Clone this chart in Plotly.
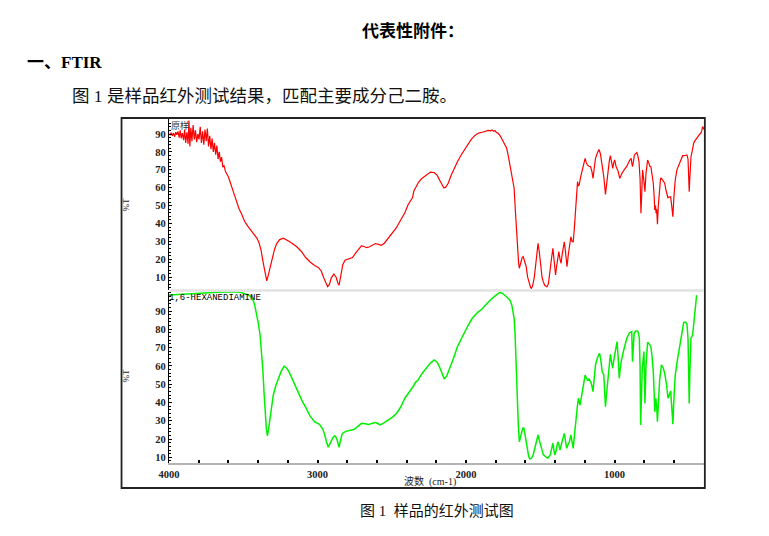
import plotly.graph_objects as go

W, H = 769, 536

# 原样 (上段, 红色)
sample_wn = [4000, 3992, 3985, 3978, 3970, 3962, 3955, 3948, 3940, 3932, 3925, 3918, 3910, 3902,
             3895, 3888, 3880, 3872, 3866, 3860, 3853, 3846, 3838, 3830, 3822, 3814, 3806, 3798,
             3790, 3782, 3774, 3766, 3758, 3750, 3742, 3734, 3726, 3718, 3710, 3702, 3694, 3686,
             3678, 3670, 3662, 3654, 3646, 3638, 3630, 3620, 3610, 3600, 3590, 3580, 3570, 3560,
             3545, 3530, 3510, 3490, 3470, 3450, 3430, 3410, 3395, 3380, 3368, 3355, 3342, 3332,
             3320, 3308, 3290, 3275, 3255, 3230, 3210, 3190, 3165, 3140, 3110, 3080, 3050, 3020,
             2995, 2975, 2960, 2945, 2932, 2920, 2908, 2890, 2875, 2862, 2855, 2845, 2830, 2815,
             2790, 2765, 2745, 2725, 2705, 2690, 2670, 2650, 2630, 2610, 2590, 2570, 2550, 2530,
             2500, 2470, 2440, 2412, 2390, 2370, 2360, 2352, 2340, 2320, 2300, 2270, 2240, 2215,
             2195, 2170, 2150, 2138, 2120, 2100, 2080, 2058, 2035, 2010, 1990, 1965, 1940, 1915,
             1890, 1870, 1850, 1835, 1825, 1815, 1805, 1795, 1785, 1770, 1760, 1748, 1738, 1726,
             1716, 1708, 1700, 1692, 1684, 1676, 1666, 1660, 1654, 1646, 1641, 1632, 1622, 1615,
             1605, 1595, 1585, 1575, 1565, 1560, 1552, 1540, 1530, 1520, 1515, 1508, 1498, 1488,
             1480, 1470, 1460, 1455, 1445, 1435, 1425, 1415, 1408, 1400, 1397, 1390, 1382, 1375,
             1367, 1360, 1352, 1345, 1338, 1330, 1320, 1312, 1304, 1298, 1294, 1286, 1278, 1270,
             1265, 1258, 1252, 1249, 1244, 1238, 1228, 1216, 1205, 1198, 1190, 1183, 1172, 1161,
             1152, 1145, 1138, 1128, 1115, 1105, 1095, 1083, 1072, 1061, 1052, 1043, 1035, 1028,
             1020, 1012, 1005, 999, 990, 983, 975, 965, 957, 950, 935, 917, 900, 888,
             884, 879, 872, 866, 858, 850, 842, 835, 828, 822, 816, 811, 805, 800,
             795, 788, 782, 777, 770, 762, 755, 747, 739, 733, 729, 724, 720, 716,
             711, 705, 700, 696, 690, 684, 675, 662, 652, 645, 640, 632, 622, 615,
             607, 600, 591, 580, 563, 550, 541, 525, 512, 505, 500, 497, 493, 488,
             485, 478, 472, 467, 460, 450, 445, 435, 425, 419, 412, 407, 402, 397]
sample_t = [90, 89.5, 90.8, 89, 90.5, 88.5, 91, 89.5, 91.5, 88, 92, 87.5, 90.5, 86.5,
            92.5, 85, 91, 84.5, 97.5, 83, 93.5, 86, 95, 87, 92, 85.5, 90, 87,
            94, 85, 91.5, 84, 92.5, 86, 93, 83, 89, 81.5, 87.5, 80, 85, 78.5,
            83.5, 76, 80, 74.5, 77, 71.5, 72.5, 69, 67.5, 66, 63.5, 61.5, 58.5, 56,
            52, 48.5, 45, 41, 38.5, 36.5, 34.5, 32, 29.5, 25, 19, 13, 8, 11,
            15, 20.5, 25.5, 28.8, 31, 31.8, 31, 30, 28.5, 27, 24.5, 21, 18.5, 16.5,
            15.5, 13.5, 10, 6.5, 4.7, 6, 9.5, 11.8, 10, 6.5, 5.6, 10, 17, 19.5,
            20.3, 21, 23.3, 25.5, 27.5, 27.3, 26.5, 27, 28, 28.8, 28.3, 27.8, 29, 31,
            34, 37.5, 42, 46, 50.5, 53.5, 54.5, 58, 60, 63, 65, 67, 68.7, 68.5,
            67, 63, 60, 60.2, 62.5, 67, 71, 74.5, 78, 81.5, 84, 87, 89.2, 90.5,
            91, 91.3, 92, 91.8, 92.3, 91.5, 91.9, 90.8, 90.5, 89, 87.5, 86, 84, 82,
            78, 74.5, 71, 68, 64, 59.7, 44.7, 35, 26.1, 18, 15, 18, 21, 21.5,
            19, 16, 10, 6.6, 4.2, 3.8, 5, 10, 17, 25, 28.9, 25, 16, 10,
            7.5, 5.5, 4.8, 4.7, 6.5, 12, 20, 26.1, 20, 13, 11.2, 16, 22, 24.3,
            20, 17.8, 23, 27, 29.8, 24, 15.9, 22, 27, 31, 32.6, 30, 29.8, 38,
            44.7, 53, 60, 63.4, 61, 61.5, 66, 69.9, 74, 76.4, 74, 72.7, 72, 71.7,
            69, 65.2, 70, 76.4, 79.5, 81.4, 79, 72.7, 66, 56.3, 63, 70.8, 75, 77.9,
            75, 70.8, 74, 75.5, 72, 70.8, 69, 65.2, 67, 68, 70, 72, 75, 76.4,
            74, 71.7, 75, 78.3, 79, 79.6, 77.5, 74.5, 65, 45.7, 58, 69.9, 66, 62.5,
            57.8, 68, 73, 75.5, 74, 72, 71.7, 68, 62.5, 55, 47.5, 50, 45.7, 48,
            39.6, 50, 56, 62, 65.2, 65.2, 64, 62.5, 58, 55.5, 54.4, 54.8, 55, 50,
            43.8, 55, 64.3, 70, 73.6, 76.5, 77.9, 78, 78.3, 76, 65, 57.8, 65, 76,
            77.3, 80, 83, 84.8, 86, 87.5, 88, 89, 90, 90.4, 92, 94.1, 93.5, 92.5]

# 1,6-HEXANEDIAMINE (下段, 绿色)
ref_wn = [4000, 3950, 3896, 3840, 3785, 3730, 3674, 3620, 3586, 3550, 3520, 3490, 3464, 3445,
          3430, 3420, 3409, 3398, 3387, 3378, 3369, 3360, 3353, 3345, 3338, 3330, 3320, 3310,
          3298, 3280, 3264, 3245, 3225, 3205, 3187, 3160, 3132, 3105, 3076, 3050, 3021, 2987,
          2965, 2954, 2940, 2928, 2916, 2906, 2895, 2884, 2876, 2868, 2860, 2855, 2845, 2833,
          2810, 2789, 2756, 2730, 2704, 2680, 2656, 2630, 2611, 2595, 2578, 2550, 2522, 2495,
          2467, 2440, 2412, 2379, 2357, 2340, 2323, 2295, 2268, 2240, 2213, 2195, 2179, 2160,
          2146, 2130, 2113, 2085, 2058, 2030, 2002, 1980, 1958, 1925, 1892, 1865, 1836, 1800,
          1770, 1748, 1726, 1705, 1692, 1684, 1676, 1670, 1666, 1660, 1654, 1648, 1641, 1633,
          1626, 1618, 1610, 1603, 1597, 1588, 1578, 1570, 1558, 1548, 1530, 1515, 1505, 1493,
          1480, 1464, 1449, 1433, 1425, 1415, 1408, 1402, 1392, 1382, 1375, 1367, 1352, 1338,
          1330, 1322, 1313, 1304, 1294, 1286, 1278, 1270, 1261, 1250, 1243, 1232, 1225, 1216,
          1207, 1198, 1190, 1183, 1172, 1161, 1152, 1145, 1137, 1128, 1115, 1101, 1092, 1083,
          1072, 1061, 1052, 1043, 1035, 1028, 1020, 1012, 1005, 999, 990, 983, 975, 968,
          962, 955, 940, 925, 917, 900, 884, 879, 873, 868, 858, 844, 838, 833,
          828, 824, 818, 813, 802, 798, 795, 788, 782, 777, 766, 755, 747, 739,
          733, 729, 722, 716, 711, 705, 696, 684, 672, 662, 650, 640, 630, 622,
          615, 607, 600, 591, 575, 563, 548, 534, 522, 512, 505, 500, 497, 493,
          485, 474, 463, 455, 447]
ref_t = [98.7, 99, 99.1, 99.5, 99.8, 100, 100.2, 100.4, 100.6, 100.5, 100.2, 99.5, 98.7, 97.5,
         95.1, 92, 87.8, 83, 76.9, 68, 58.7, 45, 34.9, 26, 21.8, 25, 31.3, 38,
         44.1, 49.5, 53.2, 57, 59.9, 58.5, 55.9, 51, 45.9, 41, 36.8, 32.5, 29.5, 28.1,
         25.5, 23.1, 18.5, 15.5, 17.5, 19.5, 21, 21.8, 21, 19.5, 16.5, 15.5, 19.5, 23.1,
         24.2, 24.6, 25.2, 26.8, 28.6, 28.4, 28, 28.6, 29, 28.5, 27.7, 29, 30.4, 32,
         34.1, 37.5, 42.3, 45.9, 48.6, 51, 52.3, 56, 58.7, 61.5, 63.2, 62, 59.5, 55,
         52.8, 54.5, 57.7, 64, 70.5, 75.5, 79.6, 83, 86, 89, 91.1, 93.5, 96, 98.5,
         100.3, 99.3, 97.8, 96, 93.3, 90, 86, 78, 67.8, 54, 40.4, 28, 18.5, 21,
         24, 26, 25.9, 22, 18.5, 14, 10.5, 9.1, 9.6, 11.3, 17, 22.2, 19, 14.9,
         11.5, 10.3, 9.5, 11.3, 14, 17.7, 14, 11.3, 14, 18.5, 17, 14, 19, 23.1,
         19, 14.9, 17, 18.5, 22.2, 18, 14.9, 22, 31.3, 38, 42.3, 38.6, 42, 45.9,
         50, 55, 53.5, 52.3, 52.8, 51.3, 49, 45.9, 53, 60.5, 64.5, 66.9, 63, 56.8,
         55, 37.7, 46, 55, 62, 66.3, 62, 58.7, 63, 66.3, 70, 73.2, 64, 53.2,
         58, 62.3, 68, 72.5, 75.1, 78, 78.7, 62.3, 70, 77.8, 79, 79, 77.5, 75.1,
         60, 27.7, 45, 58.7, 67.8, 55, 39.5, 60, 69, 72.9, 72, 70.5, 65, 56.8,
         45, 34.9, 42.3, 38, 29.5, 40, 52.3, 60.5, 59, 55.9, 50, 42.3, 44, 46.3,
         38, 28.1, 42, 55, 64, 69.6, 77, 83.8, 84, 82.7, 75, 60, 39.5, 55,
         75.1, 76.9, 86.9, 93, 98.7]

x_ticks = [4000, 3000, 2000, 1000]
y_ticks = [10, 20, 30, 40, 50, 60, 70, 80, 90]


def px_x(p):
    return p / W


def px_y(p):
    return 1 - p / H


SERIF = "Liberation Serif, Noto Sans CJK SC"
TICK_FONT = dict(family="Liberation Serif", size=10.5, color="#222", weight="bold")

fig = go.Figure()

fig.add_trace(go.Scatter(x=sample_wn, y=sample_t, mode="lines", xaxis="x", yaxis="y2",
                         line=dict(color="#ff0000", width=1.2), showlegend=False))
fig.add_trace(go.Scatter(x=ref_wn, y=ref_t, mode="lines", xaxis="x", yaxis="y",
                         line=dict(color="#00f000", width=1.5), showlegend=False))

yaxis_common = dict(
    showline=True, linecolor="#000", linewidth=1,
    ticks="inside", ticklen=3, tickcolor="#000", tickwidth=1,
    minor=dict(dtick=2, ticks="inside", ticklen=2, tickcolor="#000"),
    tickvals=y_ticks, tickfont=TICK_FONT,
    showgrid=False, zeroline=False, anchor="x",
)

fig.update_layout(
    width=W, height=H, autosize=False,
    margin=dict(l=0, r=0, t=0, b=0),
    paper_bgcolor="white", plot_bgcolor="white",
    xaxis=dict(
        domain=[px_x(161), px_x(703.5)], range=[4001, 395], anchor="y",
        showline=True, linecolor="#b4b4b4", linewidth=2,
        ticks="inside", ticklen=3, tickwidth=2, tickcolor="#000",
        minor=dict(dtick=200, ticks="inside", ticklen=3, tickwidth=2, tickcolor="#000"),
        tickvals=x_ticks, ticktext=[str(v) for v in x_ticks], tickfont=TICK_FONT,
        showgrid=False, zeroline=False,
    ),
    yaxis=dict(domain=[px_y(463), px_y(291.5)], range=[6.9, 100.66], **yaxis_common),
    yaxis2=dict(domain=[px_y(290), px_y(119)], range=[2.85, 98.38], **yaxis_common),
)

# 外框和上下两段之间的分隔线
fig.add_shape(type="rect", xref="paper", yref="paper",
              x0=px_x(113), x1=px_x(704), y0=px_y(488), y1=px_y(118),
              line=dict(color="#222", width=1.8), fillcolor="rgba(0,0,0,0)", layer="above")
fig.add_shape(type="line", xref="paper", yref="paper",
              x0=px_x(162), x1=px_x(703), y0=px_y(290.5), y1=px_y(290.5),
              line=dict(color="#e2e2e2", width=2.5))


def note(text, x, y, size, family=SERIF, color="#111", xanchor="left", weight="normal", angle=0):
    fig.add_annotation(text=text, xref="paper", yref="paper", x=px_x(x), y=px_y(y),
                       xanchor=xanchor, yanchor="middle", showarrow=False, textangle=angle,
                       font=dict(family=family, size=size, color=color, weight=weight))


# 文档文字
note("代表性附件：", 355, 30, 17, family="Noto Sans CJK SC", color="#000", weight="bold")
note("一、FTIR", 15, 63, 17, color="#000", weight="bold")
note("图 1 是样品红外测试结果，匹配主要成分己二胺。", 61, 96, 17.5)
note("图 1  样品的红外测试图", 353, 511, 15)

# 图内标签
note("原样", 161, 126, 9, family="Noto Sans CJK SC", color="#333")
note("1,6-HEXANEDIAMINE", 159, 298, 9, family="Liberation Mono", color="#000")
note("%T", 118, 205, 9, family="Liberation Serif", color="#222", xanchor="center", angle=-90)
note("%T", 118, 376, 9, family="Liberation Serif", color="#222", xanchor="center", angle=-90)
note("波数  (cm-1)", 426, 481, 10, color="#222", xanchor="center")

# 去掉页面默认边距, 让图从窗口左上角开始
fig.write_html("out.html", config={"displayModeBar": False},
               post_script="document.body.style.margin='0';")
